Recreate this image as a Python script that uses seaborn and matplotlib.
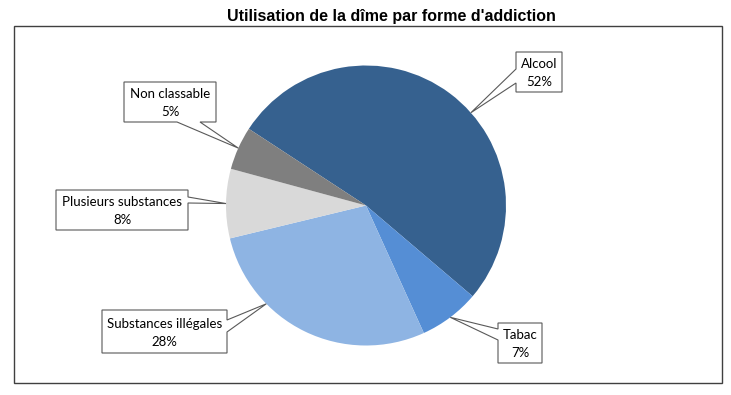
import matplotlib
matplotlib.use("Agg")
import matplotlib.pyplot as plt
import seaborn as sns
import numpy as np
from matplotlib.patches import Polygon, Rectangle

# Data
categories = ["Alcool", "Tabac", "Substances illégales", "Plusieurs substances", "Non classable"]
shares = [52, 7, 28, 8, 5]
pct_labels = ["52%", "7%", "28%", "8%", "5%"]
title = "Utilisation de la dîme par forme d'addiction"

palette = sns.color_palette(["#36618F", "#558ED5", "#8EB4E3", "#D9D9D9", "#7F7F7F"])

# Callout layout (pixel space, y downward): box, side carrying the pointer,
# pointer base along that side, and angular shift of the tip from the wedge middle
callout_boxes = [(516, 52, 562, 92), (498, 323, 542, 363), (102, 310, 227, 353),
                 (56, 190, 188, 230), (124, 82, 216, 122)]
callout_sides = ["left", "left", "right", "right", "bottom"]
callout_bases = [(69, 83), (329, 340), (320, 332), (197, 203), (177, 200)]
tip_shifts = [-11.7, 0.0, -19.4, 0.0, 0.0]

sns.set_theme(style="white")
plt.rcParams["font.family"] = ["Lato", "DejaVu Sans"]

W, H = 731, 395
fig = plt.figure(figsize=(W / 100, H / 100), dpi=100)

cx, cy, r = 366, 205.5, 140
pie_ax = fig.add_axes([(cx - r) / W, (H - cy - r) / H, 2 * r / W, 2 * r / H])
wedges, _ = pie_ax.pie(shares, colors=palette, startangle=146.8, counterclock=False,
                       radius=1, wedgeprops=dict(linewidth=0))
pie_ax.set_xlim(-1, 1)
pie_ax.set_ylim(-1, 1)
pie_ax.set_aspect("equal")
pie_ax.axis("off")

overlay = fig.add_axes([0, 0, 1, 1])
overlay.set_xlim(0, W)
overlay.set_ylim(H, 0)
overlay.axis("off")
overlay.patch.set_visible(False)

# Chart frame and title
overlay.add_patch(Rectangle((14, 26), 708, 357, fill=False, edgecolor="#404040", lw=1.0))
overlay.text(391, 16, title, ha="center", va="center", fontsize=11.5, fontweight="bold",
             family=["Liberation Sans", "DejaVu Sans"], color="black")

to_overlay = pie_ax.transData + overlay.transData.inverted()

for i, w in enumerate(wedges):
    ang = np.deg2rad((w.theta1 + w.theta2) / 2 + tip_shifts[i])
    tx, ty = to_overlay.transform((np.cos(ang), np.sin(ang)))
    x0, y0, x1, y1 = callout_boxes[i]
    b0, b1 = callout_bases[i]
    side = callout_sides[i]
    if side == "left":
        pts = [(x0, y0), (x1, y0), (x1, y1), (x0, y1), (x0, b1), (tx, ty), (x0, b0)]
    elif side == "right":
        pts = [(x0, y0), (x1, y0), (x1, b0), (tx, ty), (x1, b1), (x1, y1), (x0, y1)]
    else:
        pts = [(x0, y0), (x1, y0), (x1, y1), (b1, y1), (tx, ty), (b0, y1), (x0, y1)]
    overlay.add_patch(Polygon(pts, closed=True, facecolor="white",
                              edgecolor="#595959", lw=0.8, joinstyle="miter"))
    overlay.text((x0 + x1) / 2, (y0 + y1) / 2 + 1, f"{categories[i]}\n{pct_labels[i]}",
                 ha="center", va="center", fontsize=9.5, linespacing=1.6, color="black")

fig.savefig("out.png", dpi=100)
